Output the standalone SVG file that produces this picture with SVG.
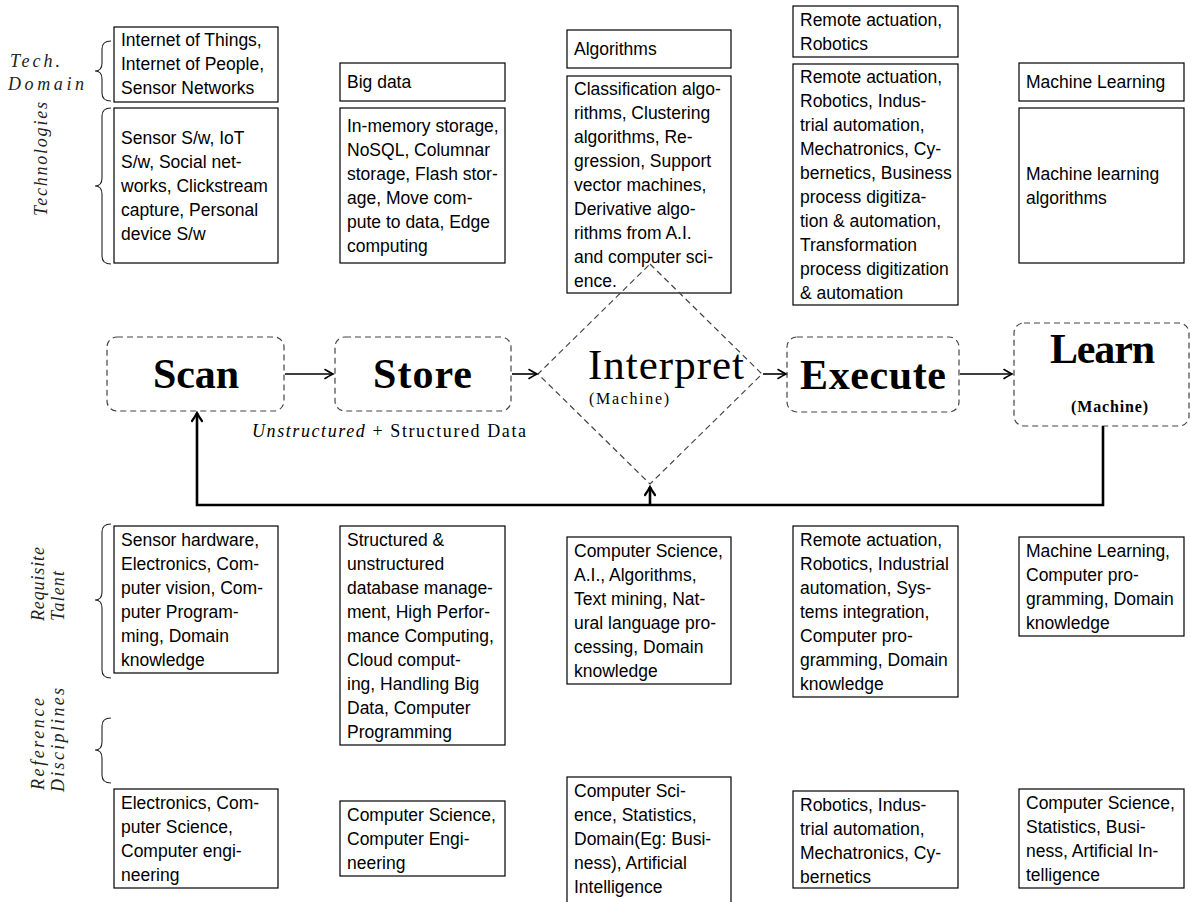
<svg xmlns="http://www.w3.org/2000/svg" width="1191" height="902" viewBox="0 0 1191 902">
<defs>
<style>
.bx{fill:#fff;stroke:#000;stroke-width:1.2}
.t{font-family:"Liberation Sans",Arial,sans-serif;font-size:17.5px;fill:#000}
.dn{fill:none;stroke:#444;stroke-width:1.2;stroke-dasharray:6 4}
.cn{fill:none;stroke:#000;stroke-width:1.6}
.fb{fill:none;stroke:#000;stroke-width:2.6}
.big{font-family:"Liberation Serif","Times New Roman",serif;font-weight:bold;font-size:42px;fill:#000}
.ser{font-family:"Liberation Serif","Times New Roman",serif;fill:#000}
.it{font-family:"Liberation Serif","Times New Roman",serif;font-style:italic;font-size:18px;fill:#222}
.br{fill:none;stroke:#222;stroke-width:1.1}
</style>
<marker id="ah" viewBox="-10 -6 12 12" refX="0" refY="0" markerWidth="12" markerHeight="12" markerUnits="userSpaceOnUse" orient="auto">
<path d="M-8,-4.5 Q-3,-1.5 0,0 Q-3,1.5 -8,4.5" fill="none" stroke="#000" stroke-width="1.6" stroke-linecap="round"/>
</marker>
<marker id="ah2" viewBox="-10 -6 12 12" refX="0" refY="0" markerWidth="12" markerHeight="12" markerUnits="userSpaceOnUse" orient="auto">
<path d="M-8,-5 Q-3,-1.5 0,0 Q-3,1.5 -8,5" fill="none" stroke="#000" stroke-width="2.2" stroke-linecap="round"/>
</marker>
</defs>
<rect width="1191" height="902" fill="#fff"/>

<!-- side labels and braces -->
<g id="labels">
<text class="it" x="10" y="67" textLength="50">Tech.</text>
<text class="it" x="8" y="90" textLength="76">Domain</text>
<text class="it" transform="translate(47,216) rotate(-90)" textLength="114">Technologies</text>
<text class="it" transform="translate(44,621) rotate(-90)" textLength="74">Requisite</text>
<text class="it" transform="translate(64,621) rotate(-90)" textLength="50">Talent</text>
<text class="it" transform="translate(44,790) rotate(-90)" textLength="92">Reference</text>
<text class="it" transform="translate(64,792) rotate(-90)" textLength="104">Disciplines</text>
<path class="br" d="M111,41 Q102,41 102,49 L102,63 Q102,71 95,71 Q102,71 102,79 L102,93 Q102,101 111,101"/>
<path class="br" d="M111,108 Q102,108 102,116 L102,178 Q102,186 95,186 Q102,186 102,194 L102,256 Q102,264 111,264"/>
<path class="br" d="M111,524 Q102,524 102,532 L102,592 Q102,600 95,600 Q102,600 102,608 L102,670 Q102,678 111,678"/>
<path class="br" d="M111,718 Q102,718 102,726 L102,742 Q102,750 95,750 Q102,750 102,758 L102,775 Q102,783 111,783"/>
</g>

<!-- column 1 -->
<g id="c1-domain"><rect class="bx" x="114" y="27" width="164" height="75"/>
<text class="t"><tspan x="121" y="46">Internet of Things,</tspan><tspan x="121" y="70">Internet of People,</tspan><tspan x="121" y="94">Sensor Networks</tspan></text></g>
<g id="c1-tech"><rect class="bx" x="114" y="108" width="164" height="155"/>
<text class="t"><tspan x="121" y="143.5">Sensor S/w, IoT</tspan><tspan x="121" y="167.5">S/w, Social net-</tspan><tspan x="121" y="191.5">works, Clickstream</tspan><tspan x="121" y="215.5">capture, Personal</tspan><tspan x="121" y="239.5">device S/w</tspan></text></g>
<g id="c1-talent"><rect class="bx" x="114" y="526" width="164" height="147"/>
<text class="t"><tspan x="121" y="545.5">Sensor hardware,</tspan><tspan x="121" y="569.5">Electronics, Com-</tspan><tspan x="121" y="593.5">puter vision, Com-</tspan><tspan x="121" y="617.5">puter Program-</tspan><tspan x="121" y="641.5">ming, Domain</tspan><tspan x="121" y="665.5">knowledge</tspan></text></g>
<g id="c1-ref"><rect class="bx" x="114" y="789" width="164" height="99"/>
<text class="t"><tspan x="121" y="808.5">Electronics, Com-</tspan><tspan x="121" y="832.5">puter Science,</tspan><tspan x="121" y="856.5">Computer engi-</tspan><tspan x="121" y="880.5">neering</tspan></text></g>

<!-- column 2 -->
<g id="c2-domain"><rect class="bx" x="340" y="63" width="165" height="38"/>
<text class="t" x="347" y="88">Big data</text></g>
<g id="c2-tech"><rect class="bx" x="340" y="108" width="165" height="155"/>
<text class="t"><tspan x="347" y="131.5">In-memory storage,</tspan><tspan x="347" y="155.5">NoSQL, Columnar</tspan><tspan x="347" y="179.5">storage, Flash stor-</tspan><tspan x="347" y="203.5">age, Move com-</tspan><tspan x="347" y="227.5">pute to data, Edge</tspan><tspan x="347" y="251.5">computing</tspan></text></g>
<g id="c2-talent"><rect class="bx" x="340" y="526" width="165" height="219"/>
<text class="t"><tspan x="347" y="545.5">Structured &amp;</tspan><tspan x="347" y="569.5">unstructured</tspan><tspan x="347" y="593.5">database manage-</tspan><tspan x="347" y="617.5">ment, High Perfor-</tspan><tspan x="347" y="641.5">mance Computing,</tspan><tspan x="347" y="665.5">Cloud comput-</tspan><tspan x="347" y="689.5">ing, Handling Big</tspan><tspan x="347" y="713.5">Data, Computer</tspan><tspan x="347" y="737.5">Programming</tspan></text></g>
<g id="c2-ref"><rect class="bx" x="340" y="801" width="165" height="75"/>
<text class="t"><tspan x="347" y="820.5">Computer Science,</tspan><tspan x="347" y="844.5">Computer Engi-</tspan><tspan x="347" y="868.5">neering</tspan></text></g>

<!-- column 3 -->
<g id="c3-domain"><rect class="bx" x="567" y="30" width="164" height="38"/>
<text class="t" x="574" y="55">Algorithms</text></g>
<g id="c3-tech"><rect class="bx" x="567" y="76" width="164" height="217"/>
<text class="t"><tspan x="574" y="94.5">Classification algo-</tspan><tspan x="574" y="118.5">rithms, Clustering</tspan><tspan x="574" y="142.5">algorithms, Re-</tspan><tspan x="574" y="166.5">gression, Support</tspan><tspan x="574" y="190.5">vector machines,</tspan><tspan x="574" y="214.5">Derivative algo-</tspan><tspan x="574" y="238.5">rithms from A.I.</tspan><tspan x="574" y="262.5">and computer sci-</tspan><tspan x="574" y="286.5">ence.</tspan></text></g>
<g id="c3-talent"><rect class="bx" x="567" y="537" width="164" height="147"/>
<text class="t"><tspan x="574" y="556.5">Computer Science,</tspan><tspan x="574" y="580.5">A.I., Algorithms,</tspan><tspan x="574" y="604.5">Text mining, Nat-</tspan><tspan x="574" y="628.5">ural language pro-</tspan><tspan x="574" y="652.5">cessing, Domain</tspan><tspan x="574" y="676.5">knowledge</tspan></text></g>
<g id="c3-ref"><rect class="bx" x="567" y="777" width="164" height="127"/>
<text class="t"><tspan x="574" y="796.5">Computer Sci-</tspan><tspan x="574" y="820.5">ence, Statistics,</tspan><tspan x="574" y="844.5">Domain(Eg: Busi-</tspan><tspan x="574" y="868.5">ness), Artificial</tspan><tspan x="574" y="892.5">Intelligence</tspan></text></g>

<!-- column 4 -->
<g id="c4-domain"><rect class="bx" x="793" y="6" width="165" height="51"/>
<text class="t"><tspan x="800" y="25.5">Remote actuation,</tspan><tspan x="800" y="49.5">Robotics</tspan></text></g>
<g id="c4-tech"><rect class="bx" x="793" y="64" width="165" height="241"/>
<text class="t"><tspan x="800" y="82.5">Remote actuation,</tspan><tspan x="800" y="106.5">Robotics, Indus-</tspan><tspan x="800" y="130.5">trial automation,</tspan><tspan x="800" y="154.5">Mechatronics, Cy-</tspan><tspan x="800" y="178.5">bernetics, Business</tspan><tspan x="800" y="202.5">process digitiza-</tspan><tspan x="800" y="226.5">tion &amp; automation,</tspan><tspan x="800" y="250.5">Transformation</tspan><tspan x="800" y="274.5">process digitization</tspan><tspan x="800" y="298.5">&amp; automation</tspan></text></g>
<g id="c4-talent"><rect class="bx" x="793" y="526" width="165" height="171"/>
<text class="t"><tspan x="800" y="545.5">Remote actuation,</tspan><tspan x="800" y="569.5">Robotics, Industrial</tspan><tspan x="800" y="593.5">automation, Sys-</tspan><tspan x="800" y="617.5">tems integration,</tspan><tspan x="800" y="641.5">Computer pro-</tspan><tspan x="800" y="665.5">gramming, Domain</tspan><tspan x="800" y="689.5">knowledge</tspan></text></g>
<g id="c4-ref"><rect class="bx" x="793" y="791" width="165" height="97"/>
<text class="t"><tspan x="800" y="810.5">Robotics, Indus-</tspan><tspan x="800" y="834.5">trial automation,</tspan><tspan x="800" y="858.5">Mechatronics, Cy-</tspan><tspan x="800" y="882.5">bernetics</tspan></text></g>

<!-- column 5 -->
<g id="c5-domain"><rect class="bx" x="1019" y="63" width="165" height="38"/>
<text class="t" x="1026" y="88">Machine Learning</text></g>
<g id="c5-tech"><rect class="bx" x="1019" y="108" width="165" height="155"/>
<text class="t"><tspan x="1026" y="179.5">Machine learning</tspan><tspan x="1026" y="203.5">algorithms</tspan></text></g>
<g id="c5-talent"><rect class="bx" x="1019" y="537" width="165" height="99"/>
<text class="t"><tspan x="1026" y="556.5">Machine Learning,</tspan><tspan x="1026" y="580.5">Computer pro-</tspan><tspan x="1026" y="604.5">gramming, Domain</tspan><tspan x="1026" y="628.5">knowledge</tspan></text></g>
<g id="c5-ref"><rect class="bx" x="1019" y="789" width="165" height="99"/>
<text class="t"><tspan x="1026" y="808.5">Computer Science,</tspan><tspan x="1026" y="832.5">Statistics, Busi-</tspan><tspan x="1026" y="856.5">ness, Artificial In-</tspan><tspan x="1026" y="880.5">telligence</tspan></text></g>

<!-- main flow -->
<g id="scan"><rect class="dn" x="107" y="337" width="177" height="74" rx="10"/>
<text class="big" x="153" y="388" textLength="86">Scan</text></g>
<g id="store"><rect class="dn" x="335" y="337" width="176" height="74" rx="10"/>
<text class="big" x="373" y="388" textLength="99">Store</text></g>
<g id="interpret"><polygon class="dn" points="650,264 762,374 650,484 538,374"/>
<text class="ser" x="588" y="379" font-size="43" textLength="156">Interpret</text>
<text class="ser" x="589" y="404" font-size="16" textLength="80" fill="#222">(Machine)</text></g>
<g id="execute"><rect class="dn" x="787" y="337" width="172" height="75" rx="10"/>
<text class="big" x="800" y="389" textLength="146">Execute</text></g>
<g id="learn"><rect class="dn" x="1014" y="323" width="175" height="103" rx="10"/>
<text class="big" x="1050" y="363" textLength="105">Learn</text>
<text class="ser" x="1071" y="412" font-size="16" font-weight="bold" textLength="77">(Machine)</text></g>

<g id="data-label"><text class="ser" x="252" y="437" font-size="18" textLength="274"><tspan font-style="italic">Unstructured</tspan> + Structured Data</text></g>

<g id="connectors">
<line class="cn" x1="285" y1="374" x2="333" y2="374" marker-end="url(#ah)"/>
<line class="cn" x1="512" y1="374" x2="537" y2="374" marker-end="url(#ah)"/>
<line class="cn" x1="763" y1="374" x2="786" y2="374" marker-end="url(#ah)"/>
<line class="cn" x1="960" y1="374" x2="1012" y2="374" marker-end="url(#ah)"/>
<path class="fb" d="M1103,426 V505 H197 V413" marker-end="url(#ah2)"/>
<line class="fb" x1="650" y1="505" x2="650" y2="487" marker-end="url(#ah2)"/>
</g>
</svg>
